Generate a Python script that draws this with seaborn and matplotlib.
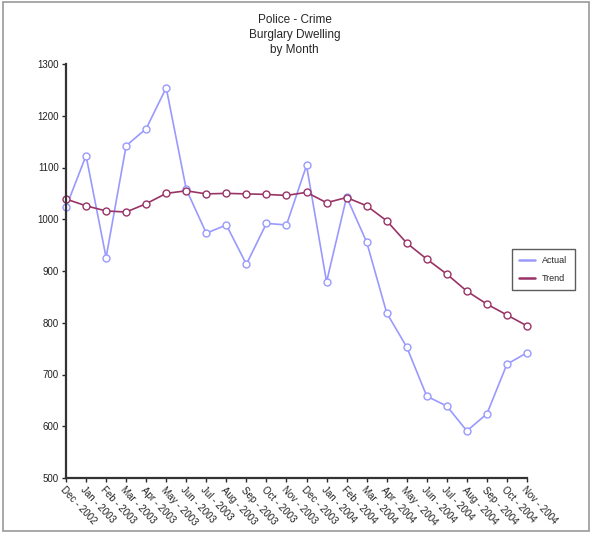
import numpy as np
import pandas as pd
import seaborn as sns
import matplotlib.pyplot as plt
from matplotlib.patches import Rectangle

# ----------------------------
# Dati
# ----------------------------
months = ["Dec - 2002", "Jan - 2003", "Feb - 2003", "Mar - 2003", "Apr - 2003",
          "May - 2003", "Jun - 2003", "Jul - 2003", "Aug - 2003", "Sep - 2003",
          "Oct - 2003", "Nov - 2003", "Dec - 2003", "Jan - 2004", "Feb - 2004",
          "Mar - 2004", "Apr - 2004", "May - 2004", "Jun - 2004", "Jul - 2004",
          "Aug - 2004", "Sep - 2004", "Oct - 2004", "Nov - 2004"]
actual = [1023, 1123, 926, 1142, 1175, 1254, 1058, 973, 989, 913, 992, 989,
          1104, 879, 1043, 956, 819, 753, 658, 639, 591, 624, 720, 742]
trend = [1039, 1026, 1016, 1014, 1030, 1050, 1055, 1049, 1050, 1049, 1048, 1046,
         1052, 1032, 1042, 1026, 997, 954, 923, 894, 861, 836, 815, 794]

df = pd.DataFrame({
    "idx": list(range(len(months))) * 2,
    "value": actual + trend,
    "series": ["Actual"] * len(months) + ["Trend"] * len(months),
})

sns.set_theme(style="white")
plt.rcParams["font.family"] = ["Liberation Sans", "DejaVu Sans"]

fig = plt.figure(figsize=(5.93, 5.35), dpi=100)
ax = fig.add_axes([66 / 593, 57 / 535, 461 / 593, 414 / 535])

palette = {"Actual": "#9999FF", "Trend": "#993366"}
sns.lineplot(
    data=df, x="idx", y="value", hue="series", palette=palette,
    marker="o", markersize=5, markerfacecolor="white", markeredgewidth=1.0,
    linewidth=1.2, ax=ax, legend=False, clip_on=False,
)
# marker edge colour per serie
for line, name in zip(ax.get_lines(), ["Actual", "Trend"]):
    line.set_markeredgecolor(palette[name])

ax.set_xlim(0, len(months) - 1)
ax.set_ylim(500, 1300)
ax.set_yticks(range(500, 1301, 100))
ax.set_xticks(range(len(months)))
ax.set_xticklabels(months, rotation=-47, ha="left", va="top",
                   rotation_mode="anchor", fontsize=7, color="#222222")
ax.tick_params(axis="y", labelsize=7, length=3, width=1, direction="out",
               left=True, pad=2, labelcolor="#222222")
ax.tick_params(axis="x", length=3, width=1, direction="out", bottom=True, pad=2)
ax.set_xlabel("")
ax.set_ylabel("")
for side in ["top", "right"]:
    ax.spines[side].set_visible(False)
for side in ["left", "bottom"]:
    ax.spines[side].set_color("#333333")
    ax.spines[side].set_linewidth(1.6)

# legenda (a destra, sopra il grafico)
handles = [plt.Line2D([0], [0], color=palette[s], lw=1.8) for s in ["Actual", "Trend"]]
leg = fig.legend(handles, ["Actual", "Trend"], loc="upper left",
                 bbox_to_anchor=(507 / 593, 1 - 244 / 535), fontsize=6.5,
                 frameon=True, fancybox=False, handlelength=1.8,
                 borderpad=0.8, labelspacing=1.0)
leg.get_frame().set_edgecolor("#333333")
leg.get_frame().set_linewidth(1.0)

fig.text(0.497, 1 - 14 / 535, "Police - Crime\nBurglary Dwelling\nby Month",
         ha="center", va="top", fontsize=8.5, linespacing=1.35)

# cornice grigia
fig.patches.append(Rectangle((3 / 593, 4 / 535), 586 / 593, 529 / 535,
                             transform=fig.transFigure, fill=False,
                             edgecolor="#999999", lw=1.2))

fig.savefig("out.png", dpi=100)
